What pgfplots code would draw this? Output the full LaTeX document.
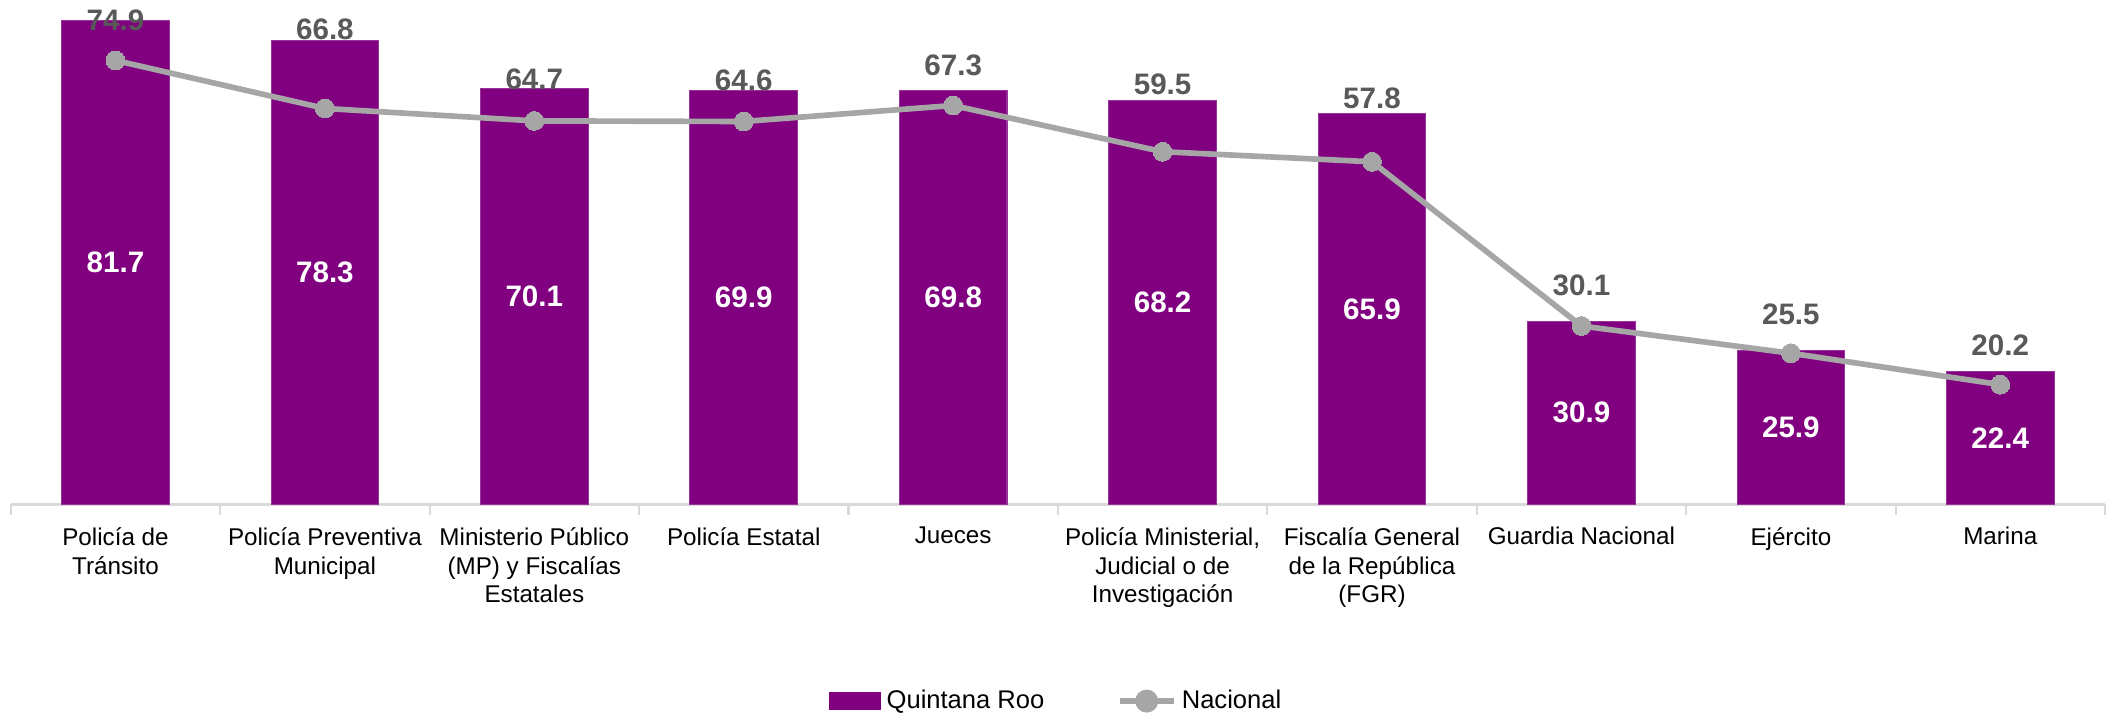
\documentclass[border=0pt]{standalone}
\usepackage{pgfplots}
\pgfplotsset{compat=1.18}
\usepackage{pgfplotstable}
\usepackage{fontspec}
\setmainfont{Liberation Sans}
\definecolor{qroo}{HTML}{800080}
\definecolor{nac}{HTML}{A6A6A6}
\definecolor{labgray}{HTML}{595959}
\definecolor{axgray}{HTML}{D9D9D9}

\pgfplotstableread{
x q n lab
0 81.7 74.9 81.6
1 78.3 66.8 80.1
2 70.1 64.7 71.7
3 69.9 64.6 71.6
4 69.8 67.3 74.0
5 68.2 59.5 70.8
6 65.9 57.8 68.5
7 30.9 30.1 36.9
8 25.9 25.5 32.0
9 22.4 20.2 26.8
}\datatable

\begin{document}
\begin{tikzpicture}
\begin{axis}[
  scale only axis,
  width=778.5pt, height=187.5pt,
  xmin=-0.5, xmax=9.5, ymin=0, ymax=85.1,
  axis y line=none,
  axis x line*=bottom,
  x axis line style={draw=axgray, line width=1pt, -},
  xtick={0,...,9},
  major tick length=0pt,
  minor xtick={-0.5,0.5,...,9.5},
  minor tick length=4pt,
  tick align=outside,
  minor tick style={draw=axgray, line width=0.8pt},
  /pgf/number format/assume math mode=true,
  xticklabels={Policía de\\Tránsito, Policía Preventiva\\Municipal, Ministerio Público\\(MP) y Fiscalías\\Estatales, Policía Estatal, Jueces, {Policía Ministerial,\\Judicial o de\\Investigación}, Fiscalía General\\de la República\\(FGR), Guardia Nacional, Ejército, Marina},
  xticklabel style={align=center, font=\fontsize{9}{10.75}\selectfont, text=black, yshift=-5pt},
  clip=false,
  legend columns=2,
  legend style={draw=none, at={(0.5,-0.39)}, anchor=center, font=\fontsize{9.5}{10}\selectfont, inner sep=0pt, /tikz/every even column/.append style={column sep=25pt}},
]
\addplot[ybar, bar width=40pt, fill=qroo, draw=qroo!80!white, line width=0.4pt,
  legend image code/.code={\fill[qroo] (0pt,-3pt) rectangle (19pt,3pt);}]
  table[x=x, y=q] {\datatable};
\addlegendentry{Quintana Roo}
\addplot[color=nac, line width=2.1pt, mark=*, mark size=3.5pt, mark options={fill=nac, draw=nac, line width=0pt},
  legend image code/.code={\draw[nac, line width=2.1pt] (0pt,0pt) -- (20pt,0pt); \fill[nac] (10pt,0pt) circle (3.2pt);}]
  table[x=x, y=n] {\datatable};
\addlegendentry{Nacional}
% bar value labels (white, centered in bar)
\addplot[draw=none, mark=none, forget plot, nodes near coords={\pgfmathprintnumber[fixed,precision=1,fixed zerofill,assume math mode=true]{\pgfplotspointmeta}},
  point meta=explicit,
  every node near coord/.append style={anchor=center, text=white, font=\fontsize{11}{13}\selectfont\bfseries}]
  table[x=x, y expr=\thisrow{q}/2, meta=q] {\datatable};
% national labels
\addplot[draw=none, mark=none, forget plot, nodes near coords={\pgfmathprintnumber[fixed,precision=1,fixed zerofill,assume math mode=true]{\pgfplotspointmeta}},
  point meta=explicit,
  every node near coord/.append style={anchor=center, text=labgray, font=\fontsize{11}{13}\selectfont\bfseries}]
  table[x=x, y=lab, meta=n] {\datatable};
\path (rel axis cs:0,1) ++(-4pt,0pt);
\path (rel axis cs:1,0) ++(1.5pt,0pt);
\end{axis}
\end{tikzpicture}
\end{document}
